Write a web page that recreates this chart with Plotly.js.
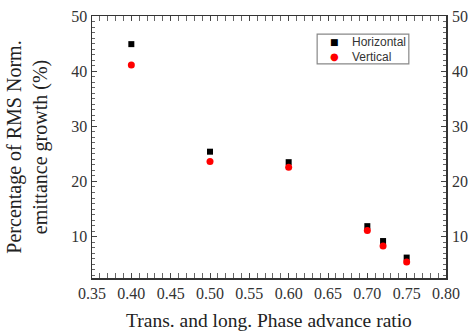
<!DOCTYPE html>
<html>
<head>
<meta charset="utf-8">
<script src="https://cdn.plot.ly/plotly-3.0.1.min.js"></script>
<style>html,body{margin:0;padding:0;background:#fff;}#chart{width:468px;height:333px;}</style>
</head>
<body>
<div id="chart"></div>
<script>
const phaseRatio = [0.40, 0.50, 0.60, 0.70, 0.72, 0.75];
const horizontal = [44.9, 25.4, 23.5, 11.9, 9.2, 6.2];
const vertical = [41.1, 23.6, 22.6, 11.1, 8.3, 5.4];
const seriesNames = ["Horizontal", "Vertical"];
const seriesColors = ["#000000", "#ff0000"];

const serif = "Liberation Serif, Times New Roman, serif";
const sans = "Liberation Sans, Arial, sans-serif";
const tickFont = {family: serif, size: 16, color: "#333"};

const traces = [
  {x: phaseRatio, y: horizontal, name: seriesNames[0], type: "scatter", mode: "markers",
   marker: {symbol: "square", size: 6, color: seriesColors[0]}},
  {x: phaseRatio, y: vertical, name: seriesNames[1], type: "scatter", mode: "markers",
   marker: {symbol: "circle", size: 7, color: seriesColors[1]}},
  {x: phaseRatio, y: horizontal, yaxis: "y2", type: "scatter", mode: "markers",
   marker: {size: 0, opacity: 0}, showlegend: false, hoverinfo: "skip"}
];

const legendRowsY = [0.902, 0.845];
const legendSymbols = ["■", "●"];
const annotations = [];
seriesNames.forEach((n, i) => {
  annotations.push({xref: "paper", yref: "paper", x: 0.684, y: legendRowsY[i], xanchor: "center", yanchor: "middle",
    text: legendSymbols[i], showarrow: false, font: {family: "DejaVu Sans", size: i === 0 ? 9 : 10, color: seriesColors[i]}});
  annotations.push({xref: "paper", yref: "paper", x: 0.729, y: legendRowsY[i], xanchor: "left", yanchor: "middle",
    text: n, showarrow: false, font: {family: sans, size: 12, color: "#333"}});
});

const layout = {
  width: 468, height: 333,
  margin: {l: 92, r: 22, t: 16, b: 55},
  paper_bgcolor: "#fff", plot_bgcolor: "#fff",
  showlegend: false,
  annotations: annotations,
  shapes: [{type: "rect", xref: "paper", yref: "paper", x0: 0.636, x1: 0.895, y0: 0.817, y1: 0.931,
    line: {color: "#888", width: 1.2}, fillcolor: "rgba(0,0,0,0)"}],
  xaxis: {
    range: [0.35, 0.80], dtick: 0.05, tick0: 0.35, tickformat: ".2f",
    ticks: "inside", ticklen: 5, tickcolor: "#444",
    minor: {dtick: 0.01, ticks: "inside", ticklen: 3, tickcolor: "#666"},
    showline: true, linecolor: "#333", linewidth: 1.5, mirror: "allticks",
    showgrid: false, zeroline: false, tickfont: tickFont,
    title: {text: "Trans. and long. Phase advance ratio", font: {family: serif, size: 19.5, color: "#222"}, standoff: 12}
  },
  yaxis: {
    range: [2.5, 50], tick0: 0, dtick: 10,
    ticks: "inside", ticklen: 5, tickcolor: "#444",
    minor: {dtick: 1, ticks: "inside", ticklen: 3, tickcolor: "#666"},
    showline: true, linecolor: "#333", linewidth: 1.5, mirror: "allticks",
    showgrid: false, zeroline: false, tickfont: tickFont,
    title: {text: "Percentage of RMS Norm.<br>emittance growth (%)", font: {family: serif, size: 20, color: "#222"}, standoff: 18}
  },
  yaxis2: {
    overlaying: "y", side: "right", matches: "y", range: [2.5, 50], tick0: 0, dtick: 10,
    ticks: "", ticklabelstandoff: 5,
    showline: false, showgrid: false, zeroline: false, tickfont: tickFont
  }
};

Plotly.newPlot("chart", traces, layout, {staticPlot: true, displayModeBar: false});
</script>
</body>
</html>
